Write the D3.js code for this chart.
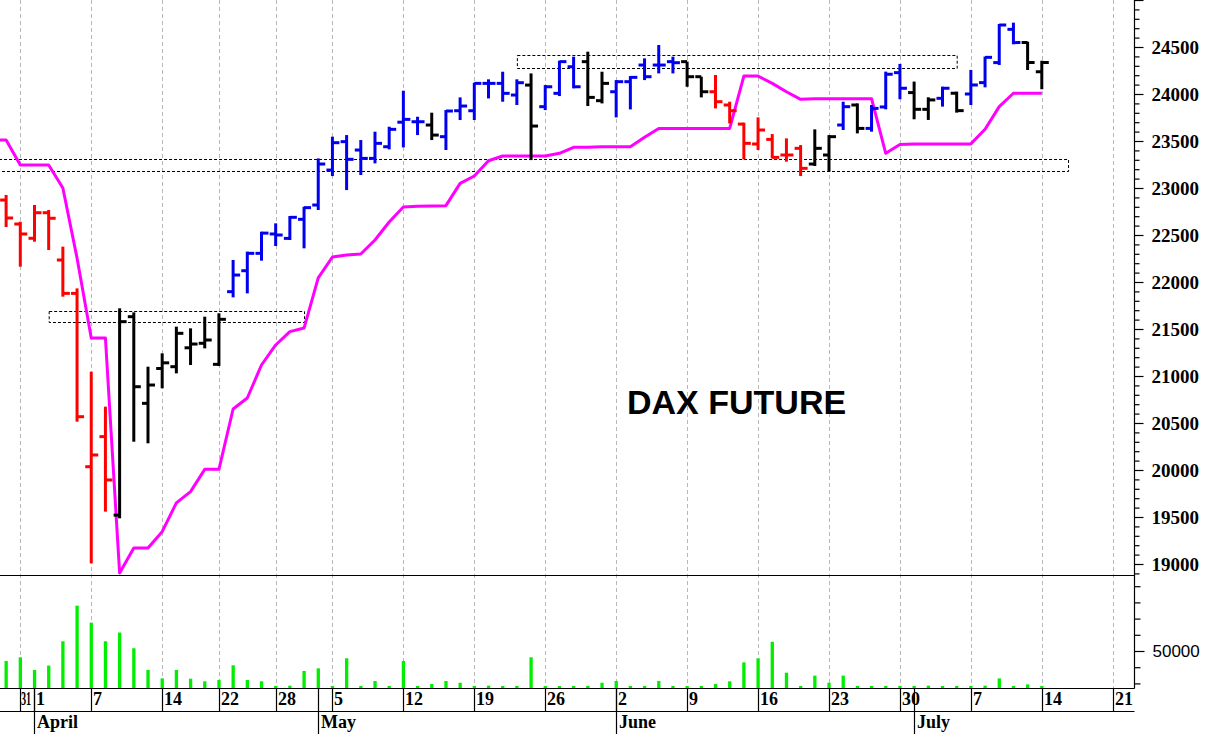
<!DOCTYPE html>
<html><head><meta charset="utf-8">
<script src="https://cdn.jsdelivr.net/npm/d3@7"></script>
<style>
html,body{margin:0;padding:0;background:#fff;}
svg{display:block;}
</style>
</head><body>
<svg id="chart" width="1206" height="734"></svg>
<script>
// ---------------- DATA ----------------
// trading days, Mar 28 .. Jul 14 (index -1 .. 72)
const dates = ["Mar 28","Mar 31","Apr 1","Apr 2","Apr 3","Apr 4","Apr 7","Apr 8","Apr 9","Apr 10","Apr 11",
"Apr 14","Apr 15","Apr 16","Apr 17","Apr 22","Apr 23","Apr 24","Apr 25","Apr 28","Apr 29","Apr 30",
"May 2","May 5","May 6","May 7","May 8","May 9","May 12","May 13","May 14","May 15","May 16",
"May 19","May 20","May 21","May 22","May 23","May 26","May 27","May 28","May 29","May 30",
"Jun 2","Jun 3","Jun 4","Jun 5","Jun 6","Jun 9","Jun 10","Jun 11","Jun 12","Jun 13",
"Jun 16","Jun 17","Jun 18","Jun 19","Jun 20","Jun 23","Jun 24","Jun 25","Jun 26","Jun 27",
"Jun 30","Jul 1","Jul 2","Jul 3","Jul 4","Jul 7","Jul 8","Jul 9","Jul 10","Jul 11","Jul 14"];
const firstIndex = -1;

const opens  = [22872,22617,22465,22737,22234,21879,20035,20355,19520,21631,20709,
21080,21099,21300,21348,21124,21897,22120,22305,22511,22464,22667,
22819,23191,23493,23404,23315,23439,23700,23705,23670,23546,23822,
23822,24113,24113,23989,24095,23865,24007,24290,24344,23929,
24024,24131,24308,24308,24344,24344,24184,24024,23883,23680,
23468,23517,23351,23422,23255,23351,23670,23883,23634,23862,
24227,24015,23837,23954,24008,24000,24121,24334,24688,24547,24238];
const highs  = [22926,22641,22819,22766,22376,21932,21046,20674,21720,21677,21099,
21241,21525,21507,21631,21667,22234,22323,22535,22624,22702,22801,
23315,23546,23563,23510,23599,23652,24035,23758,23801,23829,23964,
24120,24156,24237,24156,24219,24095,24354,24397,24450,24237,
24148,24191,24379,24521,24397,24344,24184,24202,23918,23695,
23751,23574,23528,23457,23624,23563,23918,23900,23883,24238,
24320,24132,23965,24078,24025,24256,24398,24745,24759,24557,24355];
const lows   = [22585,22163,22429,22340,21844,20514,19007,19557,19486,20301,20284,
20869,21028,21117,21294,21106,21837,21879,22227,22383,22447,22358,
22766,23127,22978,23138,23262,23411,23432,23563,23510,23404,23723,
23723,23953,23918,23883,23297,23829,23978,24060,23872,23900,
23751,23836,24148,24219,24219,24077,23964,23847,23687,23304,
23404,23315,23280,23127,23234,23173,23617,23581,23599,23837,
23944,23731,23724,23866,23802,23883,24071,24309,24529,24256,24050];
const closes = [22681,22511,22737,22678,21879,20567,20160,19894,21578,20886,20904,
21140,21454,21340,21383,21603,22074,22305,22520,22500,22688,22791,
23255,23482,23305,23315,23475,23624,23730,23705,23563,23819,23872,
24113,24113,24007,24120,23659,24077,24344,24077,23964,24113,
24131,24177,24184,24308,24333,24184,24024,23918,23822,23475,
23617,23326,23351,23209,23422,23546,23865,23634,23847,24210,
24061,23837,23937,24061,23823,24096,24390,24734,24547,24334,24334];
// bar colour class: r = red, k = black, b = blue
const barColors = ["r","r","r","r","r","r","r","r","k","k","k",
"k","k","k","k","k","b","b","b","b","b","b",
"b","b","b","b","b","b","b","b","k","b","b",
"b","b","b","b","k","b","b","b","k","k",
"b","b","b","b","b","k","k","r","r","r",
"r","r","r","r","k","k","b","k","b","b",
"b","k","k","b","k","b","b","b","b","k","k"];

// magenta trailing line, index -2 .. 72
const stopFirstIndex = -2;
const stopLine = [23511,23511,23245,23245,23245,23000,22255,21404,21404,18904,19170,19170,
19344,19650,19770,20007,20007,20649,20766,21117,21330,21472,21510,
22043,22266,22287,22298,22447,22638,22798,22805,22808,22812,23049,
23128,23290,23340,23340,23340,23340,23369,23433,23433,23439,
23439,23439,23539,23634,23634,23634,23634,23634,23634,24191,
24191,24113,24024,23943,23950,23950,23950,23950,23950,23369,
23463,23469,23469,23469,23469,23469,23625,23866,24008,24008,24008];

// volume, index -1 .. 72
const volumes = [43800,46100,38300,41000,56000,78000,67500,56000,61400,51700,38300,
33100,38300,32900,31300,32100,41200,32100,31300,28400,28600,37700,
39300,28400,45500,28400,31500,28400,43800,28400,29600,31500,30400,
28400,28600,28400,28400,46100,28400,28400,28400,28400,30400,
31500,28400,28400,31500,28400,28400,28400,29600,31300,43000,
45500,55700,36600,28400,34800,30400,34800,28400,28400,28400,
28400,28400,28600,28400,28400,28400,28600,33100,28400,29400,28400];

// dashed boxes [fromIndex, toIndex, low, high]
const boxFrom = [2, -4, 35];
const boxTo   = [20, 73.85, 66];
const boxLow  = [21571, 23176, 24279];
const boxHigh = [21691, 23309, 24415];

// axis ticks
const weekTickIndex  = [0,1,5,10,14,18,22,27,32,37,42,47,52,57,62,67,72,77];
const weekTickLabels = ["31","1","7","14","22","28","5","12","19","26","2","9","16","23","30","7","14","21"];
const weekGridIndex  = [0,5,10,14,18,22,27,32,37,42,47,52,57,62,67,72,77];
const monthIndex  = [1,21,42,63];
const monthLabels = ["April","May","June","July"];
const priceMajor = [19000,19500,20000,20500,21000,21500,22000,22500,23000,23500,24000,24500,25000];
const priceLabelled = [19000,19500,20000,20500,21000,21500,22000,22500,23000,23500,24000,24500];
const volTicks = [30000,40000,50000,60000,70000,80000,90000];
const volLabelled = [50000];
const titleText = "DAX FUTURE";

// ---------------- LAYOUT ----------------
const AX = 1134.5, PB = 575, VB = 688, XB2 = 711, HGT = 734;
const svg = d3.select("#chart");
const x  = d3.scaleLinear().domain([0, 72]).range([20.3, 1041.8]);
const y  = d3.scaleLinear().domain([19000, 24500]).range([564, 47]);
const yv = d3.scaleLinear().domain([30000, 90000]).range([683.4, 586.2]);
const colorMap = {r:"#ff0000", k:"#000000", b:"#0000ee"};

const defs = svg.append("defs");
defs.append("clipPath").attr("id","cp").append("rect").attr("x",0).attr("y",0).attr("width",AX).attr("height",PB);
defs.append("clipPath").attr("id","cv").append("rect").attr("x",0).attr("y",PB).attr("width",AX).attr("height",VB-PB);

// grid
svg.append("g").selectAll("line").data(weekGridIndex).join("line")
  .attr("x1", d=>Math.round(x(d))+0.5).attr("x2", d=>Math.round(x(d))+0.5)
  .attr("y1", 0).attr("y2", VB)
  .attr("stroke","#b8b8b8").attr("stroke-width",1).attr("stroke-dasharray","4,3");

// price panel
const gp = svg.append("g").attr("clip-path","url(#cp)");

// dashed boxes
gp.append("g").selectAll("rect").data(boxFrom.map((f,k)=>k)).join("rect")
  .attr("x", k=>x(boxFrom[k])+0.5).attr("width", k=>x(boxTo[k])-x(boxFrom[k]))
  .attr("y", k=>Math.round(y(boxHigh[k]))+0.5).attr("height", k=>Math.round(y(boxLow[k]))-Math.round(y(boxHigh[k])))
  .attr("fill","none").attr("stroke","#000").attr("stroke-width",1).attr("stroke-dasharray","3,2");

// magenta line
gp.append("path")
  .datum(stopLine.map((v,k)=>[k+stopFirstIndex, v]))
  .attr("d", d3.line().x(d=>x(d[0])).y(d=>y(d[1])))
  .attr("fill","none").attr("stroke","#ff00ff").attr("stroke-width",3).attr("stroke-linejoin","round");

// OHLC bars
const bars = gp.append("g").selectAll("g").data(dates.map((d,k)=>k)).join("g")
  .attr("stroke", k=>colorMap[barColors[k]]).attr("stroke-width",3);
bars.append("line")
  .attr("x1", k=>x(k+firstIndex)).attr("x2", k=>x(k+firstIndex))
  .attr("y1", k=>y(highs[k])).attr("y2", k=>y(lows[k]));
bars.append("line")
  .attr("x1", k=>x(k+firstIndex)-6).attr("x2", k=>x(k+firstIndex))
  .attr("y1", k=>y(opens[k])).attr("y2", k=>y(opens[k]));
bars.append("line")
  .attr("x1", k=>x(k+firstIndex)).attr("x2", k=>x(k+firstIndex)+7)
  .attr("y1", k=>y(closes[k])).attr("y2", k=>y(closes[k]));

// title
svg.append("text").attr("x",627).attr("y",414)
  .attr("font-family","'Liberation Sans', Arial, sans-serif").attr("font-weight","bold")
  .attr("font-size",34).attr("fill","#000").text(titleText);

// volume panel
const gv = svg.append("g").attr("clip-path","url(#cv)");
gv.selectAll("rect").data(volumes.map((v,k)=>k)).join("rect")
  .attr("x", k=>x(k+firstIndex)-1.6).attr("width",3.3)
  .attr("y", k=>yv(volumes[k])).attr("height", k=>VB-yv(volumes[k]))
  .attr("fill","#00ee00");

// panel separator & x-axis frame
const frame = svg.append("g").attr("stroke","#000").attr("stroke-width",1.2);
frame.append("line").attr("x1",0).attr("x2",AX).attr("y1",PB+0.5).attr("y2",PB+0.5);
frame.append("line").attr("x1",0).attr("x2",AX).attr("y1",VB+0.5).attr("y2",VB+0.5);
frame.append("line").attr("x1",0).attr("x2",AX).attr("y1",XB2+0.5).attr("y2",XB2+0.5);
frame.append("line").attr("x1",AX).attr("x2",AX).attr("y1",0).attr("y2",VB+0.5);

// week separators and labels
const serif = "'Liberation Serif', 'Times New Roman', serif";
svg.append("g").selectAll("line").data(weekTickIndex).join("line")
  .attr("x1", d=>Math.round(x(d))+0.5).attr("x2", d=>Math.round(x(d))+0.5)
  .attr("y1", VB).attr("y2", XB2).attr("stroke","#000").attr("stroke-width",1.2);
const dayText = svg.append("g").selectAll("text").data(weekTickIndex.map((d,k)=>k)).join("text")
  .attr("x", 0).attr("y", 0)
  .attr("transform", k=>`translate(${Math.round(x(weekTickIndex[k]))+2},705)`)
  .attr("font-family",serif).attr("font-weight","bold").attr("font-size",18).attr("fill","#000")
  .text(k=>weekTickLabels[k]);
// horizontally squeeze a label that would run into the next one
dayText.each(function(k){
  if (k < weekTickIndex.length-1) {
    const avail = x(weekTickIndex[k+1]) - x(weekTickIndex[k]) - 4;
    const w = this.getComputedTextLength();
    if (w > avail) d3.select(this)
      .attr("transform", `translate(${Math.round(x(weekTickIndex[k]))+1},705) scale(${(avail/w).toFixed(3)},1)`);
  }
});
// month separators and labels
svg.append("g").selectAll("line").data(monthIndex).join("line")
  .attr("x1", d=>Math.round(x(d))+0.5).attr("x2", d=>Math.round(x(d))+0.5)
  .attr("y1", VB).attr("y2", HGT).attr("stroke","#000").attr("stroke-width",1.2);
svg.append("g").selectAll("text").data(monthIndex.map((d,k)=>k)).join("text")
  .attr("x", k=>Math.round(x(monthIndex[k]))+3).attr("y",728)
  .attr("font-family",serif).attr("font-weight","bold").attr("font-size",18).attr("fill","#000")
  .text(k=>monthLabels[k]);

// price axis (right)
const priceMinor = d3.range(18900, 25001, 100).filter(v=>v%500!==0);
const gMinor = svg.append("g").attr("transform",`translate(${AX},0)`)
  .call(d3.axisRight(y).tickValues(priceMinor).tickSize(5).tickFormat(""));
const gMajor = svg.append("g").attr("transform",`translate(${AX},0)`)
  .call(d3.axisRight(y).tickValues(priceMajor).tickSize(9).tickPadding(8)
    .tickFormat(v=>priceLabelled.includes(v)?String(v):""));
[gMinor,gMajor].forEach(g=>{g.select(".domain").remove(); g.selectAll("line").attr("stroke","#000").attr("stroke-width",1.2);});
gMajor.selectAll("text").attr("font-family",serif).attr("font-weight","bold").attr("font-size",19).attr("fill","#000");

// volume axis
const gVol = svg.append("g").attr("transform",`translate(${AX},0)`)
  .call(d3.axisRight(yv).tickValues(volTicks).tickSize(6).tickPadding(12)
    .tickFormat(v=>volLabelled.includes(v)?String(v):""));
gVol.select(".domain").remove();
gVol.selectAll("line").attr("stroke","#000").attr("stroke-width",1.2)
  .attr("x2", v=>volLabelled.includes(v)?10:6);
gVol.selectAll("text").attr("font-family","'Liberation Sans', Arial, sans-serif").attr("font-size",17).attr("fill","#000");
</script>
</body></html>
